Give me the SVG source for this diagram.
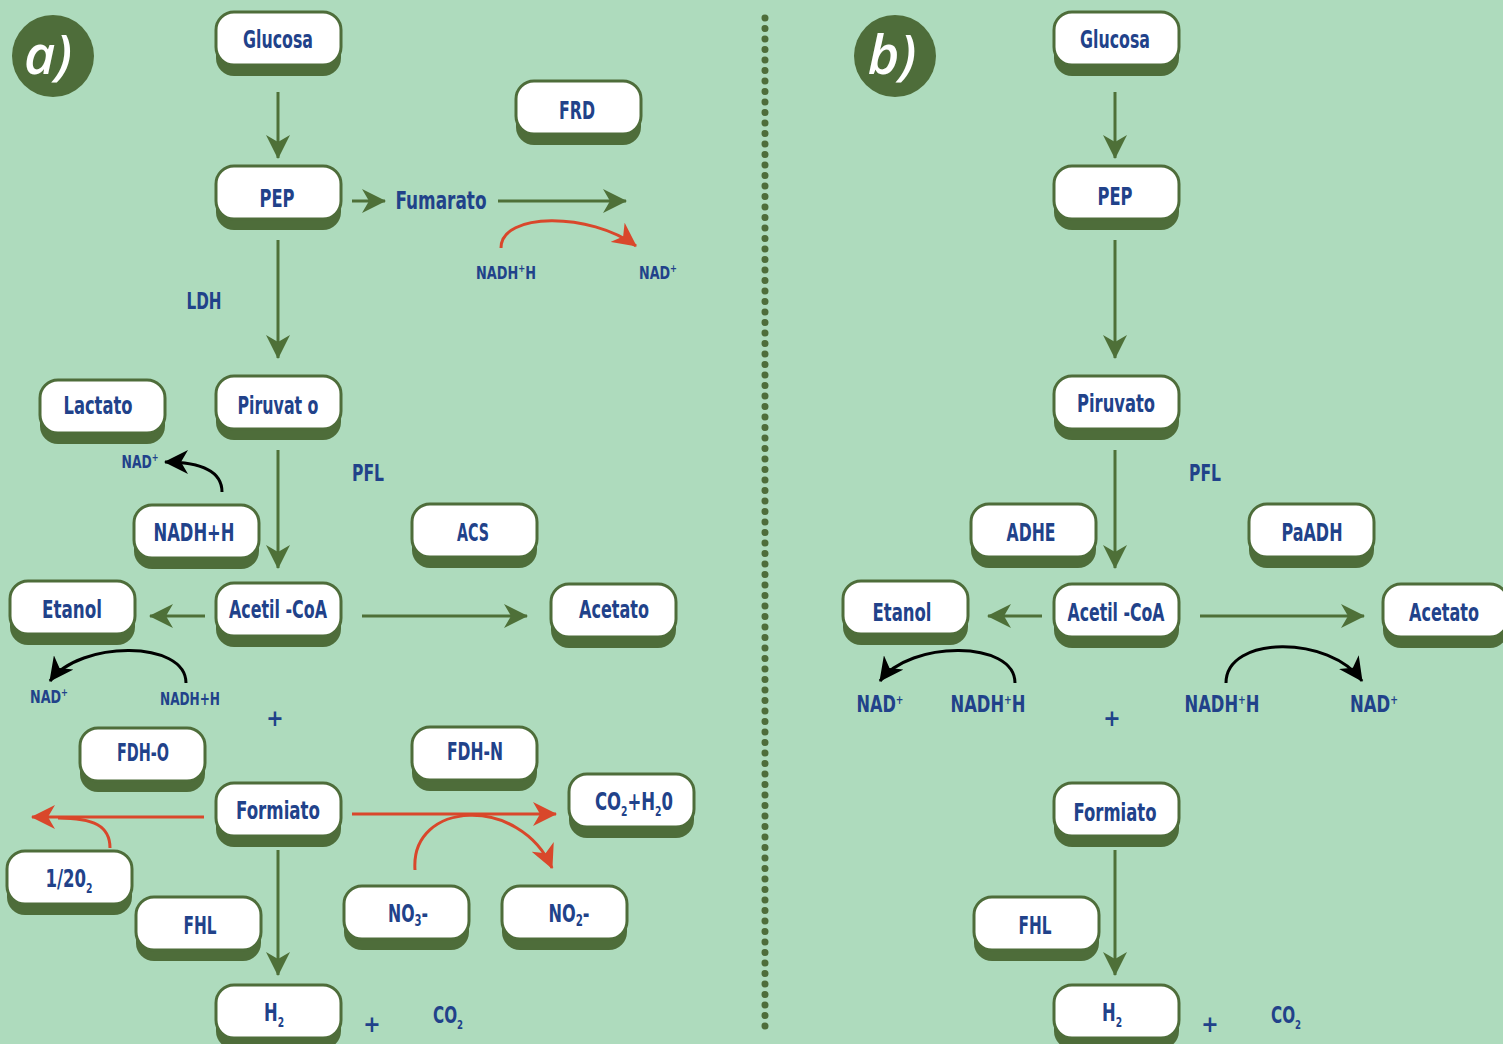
<svg xmlns="http://www.w3.org/2000/svg" width="1503" height="1044" viewBox="0 0 1503 1044">
<style>
.bg{fill:#AEDBBD}
.sh{fill:#4E6D3A}
.bx{fill:#fff;stroke:#4E6D3A;stroke-width:3}
text{font-family:"DejaVu Sans Condensed","Liberation Sans",sans-serif;font-stretch:condensed;font-weight:bold;fill:#21428A;text-anchor:middle}
.nl{font-size:25px}
.lb{font-size:24px}
.sm{font-size:17px}
.md{font-size:23px}
.g{stroke:#4E7038;stroke-width:3;fill:none}
.r{stroke:#D9472B;stroke-width:3;fill:none}
.k{stroke:#000;stroke-width:3;fill:none}
.circ{fill:#4E6D3A}
.let{font-family:"Open Sans","DejaVu Sans",sans-serif;font-style:italic;font-weight:600;font-size:54px;fill:#fff;font-stretch:normal}
</style>
<defs>
<marker id="ag" viewBox="0 0 24 24" markerWidth="24" markerHeight="24" refX="23" refY="12" orient="auto" markerUnits="userSpaceOnUse"><path d="M0,0 L24,12 L0,24 L7,12 Z" fill="#4E7038"/></marker>
<marker id="ar" viewBox="0 0 24 24" markerWidth="24" markerHeight="24" refX="23" refY="12" orient="auto" markerUnits="userSpaceOnUse"><path d="M0,0 L24,12 L0,24 L7,12 Z" fill="#D9472B"/></marker>
<marker id="ak" viewBox="0 0 24 24" markerWidth="24" markerHeight="24" refX="23" refY="12" orient="auto" markerUnits="userSpaceOnUse"><path d="M0,0 L24,12 L0,24 L7,12 Z" fill="#000"/></marker>
</defs>
<rect class="bg" x="0" y="0" width="1503" height="1044"/>

<!-- dotted divider -->
<line x1="765" y1="18" x2="765" y2="1032" stroke="#4E6D3A" stroke-width="7" stroke-linecap="round" stroke-dasharray="0 10.5"/>

<!-- panel labels -->
<g id="label-a"><circle class="circ" cx="53" cy="56" r="41"/><text class="let" x="48" y="74">a)</text></g>
<g id="label-b"><circle class="circ" cx="895" cy="56" r="41"/><text class="let" x="892" y="74">b)</text></g>

<!-- connectors -->
<g id="connectors">
<path class="g" d="M278,92 L278,158" marker-end="url(#ag)"/>
<path class="g" d="M352,201 L385,201" marker-end="url(#ag)"/>
<path class="g" d="M498,201 L626,201" marker-end="url(#ag)"/>
<path class="g" d="M278,240 L278,358" marker-end="url(#ag)"/>
<path class="g" d="M278,450 L278,568" marker-end="url(#ag)"/>
<path class="g" d="M205,616 L150,616" marker-end="url(#ag)"/>
<path class="g" d="M362,616 L527,616" marker-end="url(#ag)"/>
<path class="g" d="M278,850 L278,975" marker-end="url(#ag)"/>
<path class="r" d="M501,248 C501,212 590,212 636,246" marker-end="url(#ar)"/>
<path class="r" d="M204,817 L32,817" marker-end="url(#ar)"/>
<path class="r" d="M110,848 C110,826 94,818 58,818"/>
<path class="r" d="M352,814 L556,814" marker-end="url(#ar)"/>
<path class="r" d="M415,870 C410,800 520,795 552,868" marker-end="url(#ar)"/>
<path class="k" d="M222,492 C222,470 200,462 165,462" marker-end="url(#ak)"/>
<path class="k" d="M186,683 C186,640 80,640 50,681" marker-end="url(#ak)"/>
<path class="g" d="M1115,92 L1115,158" marker-end="url(#ag)"/>
<path class="g" d="M1115,240 L1115,358" marker-end="url(#ag)"/>
<path class="g" d="M1115,450 L1115,568" marker-end="url(#ag)"/>
<path class="g" d="M1042,616 L988,616" marker-end="url(#ag)"/>
<path class="g" d="M1200,616 L1364,616" marker-end="url(#ag)"/>
<path class="g" d="M1115,850 L1115,975" marker-end="url(#ag)"/>
<path class="k" d="M1015,683 C1015,640 910,640 880,681" marker-end="url(#ak)"/>
<path class="k" d="M1226,683 C1226,635 1330,635 1362,681" marker-end="url(#ak)"/>
</g>

<!-- panel a nodes -->
<g id="a-glucosa"><rect class="sh" x="216" y="22" width="125" height="54" rx="18"/><rect class="bx" x="216" y="12" width="125" height="53" rx="18"/><text class="nl" x="278" y="48" textLength="70" lengthAdjust="spacingAndGlyphs">Glucosa</text></g>
<g id="a-frd"><rect class="sh" x="516" y="91" width="125" height="54" rx="18"/><rect class="bx" x="516" y="81" width="125" height="53" rx="18"/><text class="nl" x="577" y="119" textLength="36" lengthAdjust="spacingAndGlyphs">FRD</text></g>
<g id="a-pep"><rect class="sh" x="216" y="176" width="125" height="54" rx="18"/><rect class="bx" x="216" y="166" width="125" height="53" rx="18"/><text class="nl" x="277" y="207" textLength="35" lengthAdjust="spacingAndGlyphs">PEP</text></g>
<g id="a-piruvato"><rect class="sh" x="216" y="386" width="125" height="54" rx="18"/><rect class="bx" x="216" y="376" width="125" height="53" rx="18"/><text class="nl" x="278" y="414" textLength="81" lengthAdjust="spacingAndGlyphs">Piruvat o</text></g>
<g id="a-lactato"><rect class="sh" x="40" y="390" width="125" height="54" rx="18"/><rect class="bx" x="40" y="380" width="125" height="53" rx="18"/><text class="nl" x="98" y="414" textLength="69" lengthAdjust="spacingAndGlyphs">Lactato</text></g>
<g id="a-nadhh"><rect class="sh" x="134" y="515" width="125" height="54" rx="18"/><rect class="bx" x="134" y="505" width="125" height="53" rx="18"/><text class="nl" x="194" y="541" textLength="81" lengthAdjust="spacingAndGlyphs">NADH+H</text></g>
<g id="a-acs"><rect class="sh" x="412" y="514" width="125" height="54" rx="18"/><rect class="bx" x="412" y="504" width="125" height="53" rx="18"/><text class="nl" x="473" y="541" textLength="32" lengthAdjust="spacingAndGlyphs">ACS</text></g>
<g id="a-etanol"><rect class="sh" x="10" y="591" width="125" height="54" rx="18"/><rect class="bx" x="10" y="581" width="125" height="53" rx="18"/><text class="nl" x="72" y="618" textLength="60" lengthAdjust="spacingAndGlyphs">Etanol</text></g>
<g id="a-acetilcoa"><rect class="sh" x="216" y="593" width="125" height="54" rx="18"/><rect class="bx" x="216" y="583" width="125" height="53" rx="18"/><text class="nl" x="278" y="618" textLength="98" lengthAdjust="spacingAndGlyphs">Acetil -CoA</text></g>
<g id="a-acetato"><rect class="sh" x="551" y="594" width="125" height="54" rx="18"/><rect class="bx" x="551" y="584" width="125" height="53" rx="18"/><text class="nl" x="614" y="618" textLength="70" lengthAdjust="spacingAndGlyphs">Acetato</text></g>
<g id="a-fdho"><rect class="sh" x="80" y="738" width="125" height="54" rx="18"/><rect class="bx" x="80" y="728" width="125" height="53" rx="18"/><text class="nl" x="143" y="761" textLength="52" lengthAdjust="spacingAndGlyphs">FDH-O</text></g>
<g id="a-fdhn"><rect class="sh" x="412" y="737" width="125" height="54" rx="18"/><rect class="bx" x="412" y="727" width="125" height="53" rx="18"/><text class="nl" x="475" y="760" textLength="56" lengthAdjust="spacingAndGlyphs">FDH-N</text></g>
<g id="a-formiato"><rect class="sh" x="216" y="793" width="125" height="54" rx="18"/><rect class="bx" x="216" y="783" width="125" height="53" rx="18"/><text class="nl" x="278" y="819" textLength="84" lengthAdjust="spacingAndGlyphs">Formiato</text></g>
<g id="a-co2h2o"><rect class="sh" x="569" y="784" width="125" height="54" rx="18"/><rect class="bx" x="569" y="774" width="125" height="53" rx="18"/><text class="nl" x="634" y="810" textLength="78" lengthAdjust="spacingAndGlyphs">CO<tspan font-size="14" dy="6">2</tspan><tspan dy="-6">+H</tspan><tspan font-size="14" dy="6">2</tspan><tspan dy="-6">0</tspan></text></g>
<g id="a-halfo2"><rect class="sh" x="7" y="861" width="125" height="54" rx="18"/><rect class="bx" x="7" y="851" width="125" height="53" rx="18"/><text class="nl" x="69" y="887" textLength="47" lengthAdjust="spacingAndGlyphs">1/20<tspan font-size="14" dy="6">2</tspan></text></g>
<g id="a-fhl"><rect class="sh" x="136" y="907" width="125" height="54" rx="18"/><rect class="bx" x="136" y="897" width="125" height="53" rx="18"/><text class="nl" x="200" y="934" textLength="33" lengthAdjust="spacingAndGlyphs">FHL</text></g>
<g id="a-no3"><rect class="sh" x="344" y="896" width="125" height="54" rx="18"/><rect class="bx" x="344" y="886" width="125" height="53" rx="18"/><text class="nl" x="408" y="922" textLength="40" lengthAdjust="spacingAndGlyphs">NO<tspan font-size="16" dy="4">3</tspan><tspan dy="-4">-</tspan></text></g>
<g id="a-no2"><rect class="sh" x="502" y="896" width="125" height="54" rx="18"/><rect class="bx" x="502" y="886" width="125" height="53" rx="18"/><text class="nl" x="569" y="922" textLength="41" lengthAdjust="spacingAndGlyphs">NO<tspan font-size="16" dy="4">2</tspan><tspan dy="-4">-</tspan></text></g>
<g id="a-h2"><rect class="sh" x="216" y="995" width="125" height="54" rx="18"/><rect class="bx" x="216" y="985" width="125" height="53" rx="18"/><text class="nl" x="274" y="1021" textLength="20" lengthAdjust="spacingAndGlyphs">H<tspan font-size="14" dy="6">2</tspan></text></g>

<!-- panel a free labels -->
<g id="a-labels">
<text class="lb" x="441" y="209" textLength="91" lengthAdjust="spacingAndGlyphs">Fumarato</text>
<text class="md" x="204" y="309" textLength="35" lengthAdjust="spacingAndGlyphs">LDH</text>
<text class="md" x="368" y="481" textLength="32" lengthAdjust="spacingAndGlyphs">PFL</text>
<text class="sm" x="506" y="279" textLength="60" lengthAdjust="spacingAndGlyphs">NADH<tspan font-size="11" dy="-7">+</tspan><tspan dy="7">H</tspan></text>
<text class="sm" x="658" y="279" textLength="38" lengthAdjust="spacingAndGlyphs">NAD<tspan font-size="11" dy="-7">+</tspan></text>
<text class="sm" x="140" y="468" textLength="37" lengthAdjust="spacingAndGlyphs">NAD<tspan font-size="11" dy="-7">+</tspan></text>
<text class="sm" x="49" y="703" textLength="38" lengthAdjust="spacingAndGlyphs">NAD<tspan font-size="11" dy="-7">+</tspan></text>
<text class="sm" x="190" y="705" textLength="60" lengthAdjust="spacingAndGlyphs">NADH+H</text>
<text class="md" x="275" y="726" font-weight="normal">+</text>
<text class="md" x="372" y="1032" font-weight="normal">+</text>
<text class="md" x="448" y="1023" textLength="30" lengthAdjust="spacingAndGlyphs">CO<tspan font-size="13" dy="6">2</tspan></text>
</g>

<!-- panel b nodes -->
<g id="b-glucosa"><rect class="sh" x="1054" y="22" width="125" height="54" rx="18"/><rect class="bx" x="1054" y="12" width="125" height="53" rx="18"/><text class="nl" x="1115" y="48" textLength="70" lengthAdjust="spacingAndGlyphs">Glucosa</text></g>
<g id="b-pep"><rect class="sh" x="1054" y="176" width="125" height="54" rx="18"/><rect class="bx" x="1054" y="166" width="125" height="53" rx="18"/><text class="nl" x="1115" y="205" textLength="35" lengthAdjust="spacingAndGlyphs">PEP</text></g>
<g id="b-piruvato"><rect class="sh" x="1054" y="386" width="125" height="54" rx="18"/><rect class="bx" x="1054" y="376" width="125" height="53" rx="18"/><text class="nl" x="1116" y="412" textLength="78" lengthAdjust="spacingAndGlyphs">Piruvato</text></g>
<g id="b-adhe"><rect class="sh" x="971" y="514" width="125" height="54" rx="18"/><rect class="bx" x="971" y="504" width="125" height="53" rx="18"/><text class="nl" x="1031" y="541" textLength="49" lengthAdjust="spacingAndGlyphs">ADHE</text></g>
<g id="b-paadh"><rect class="sh" x="1249" y="514" width="125" height="54" rx="18"/><rect class="bx" x="1249" y="504" width="125" height="53" rx="18"/><text class="nl" x="1312" y="541" textLength="61" lengthAdjust="spacingAndGlyphs">PaADH</text></g>
<g id="b-etanol"><rect class="sh" x="843" y="591" width="125" height="54" rx="18"/><rect class="bx" x="843" y="581" width="125" height="53" rx="18"/><text class="nl" x="902" y="621" textLength="59" lengthAdjust="spacingAndGlyphs">Etanol</text></g>
<g id="b-acetilcoa"><rect class="sh" x="1054" y="594" width="125" height="54" rx="18"/><rect class="bx" x="1054" y="584" width="125" height="53" rx="18"/><text class="nl" x="1116" y="621" textLength="97" lengthAdjust="spacingAndGlyphs">Acetil -CoA</text></g>
<g id="b-acetato"><rect class="sh" x="1383" y="594" width="125" height="54" rx="18"/><rect class="bx" x="1383" y="584" width="125" height="53" rx="18"/><text class="nl" x="1444" y="621" textLength="70" lengthAdjust="spacingAndGlyphs">Acetato</text></g>
<g id="b-formiato"><rect class="sh" x="1054" y="793" width="125" height="54" rx="18"/><rect class="bx" x="1054" y="783" width="125" height="53" rx="18"/><text class="nl" x="1115" y="821" textLength="83" lengthAdjust="spacingAndGlyphs">Formiato</text></g>
<g id="b-fhl"><rect class="sh" x="974" y="907" width="125" height="54" rx="18"/><rect class="bx" x="974" y="897" width="125" height="53" rx="18"/><text class="nl" x="1035" y="934" textLength="33" lengthAdjust="spacingAndGlyphs">FHL</text></g>
<g id="b-h2"><rect class="sh" x="1054" y="995" width="125" height="54" rx="18"/><rect class="bx" x="1054" y="985" width="125" height="53" rx="18"/><text class="nl" x="1112" y="1021" textLength="20" lengthAdjust="spacingAndGlyphs">H<tspan font-size="14" dy="6">2</tspan></text></g>

<!-- panel b free labels -->
<g id="b-labels">
<text class="md" x="1205" y="481" textLength="32" lengthAdjust="spacingAndGlyphs">PFL</text>
<text class="md" x="880" y="712" textLength="47" lengthAdjust="spacingAndGlyphs">NAD<tspan font-size="13" dy="-8">+</tspan></text>
<text class="md" x="988" y="712" textLength="75" lengthAdjust="spacingAndGlyphs">NADH<tspan font-size="13" dy="-8">+</tspan><tspan dy="8">H</tspan></text>
<text class="md" x="1112" y="726" font-weight="normal">+</text>
<text class="md" x="1222" y="712" textLength="75" lengthAdjust="spacingAndGlyphs">NADH<tspan font-size="13" dy="-8">+</tspan><tspan dy="8">H</tspan></text>
<text class="md" x="1374" y="712" textLength="48" lengthAdjust="spacingAndGlyphs">NAD<tspan font-size="13" dy="-8">+</tspan></text>
<text class="md" x="1210" y="1032" font-weight="normal">+</text>
<text class="md" x="1286" y="1023" textLength="30" lengthAdjust="spacingAndGlyphs">CO<tspan font-size="13" dy="6">2</tspan></text>
</g>
</svg>
